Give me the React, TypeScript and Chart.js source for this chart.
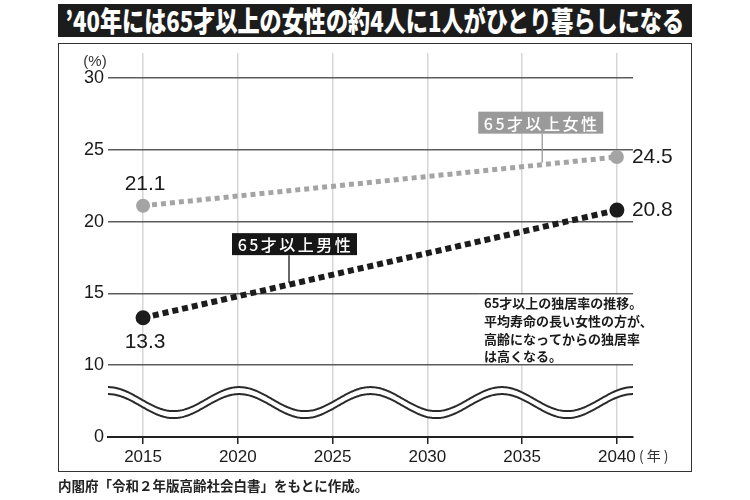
import React, { useEffect, useRef } from "react";
import { Chart, registerables } from "chart.js";

Chart.register(...registerables);

// ---------- data ----------
const TITLE = "’40年には65才以上の女性の約4人に1人がひとり暮らしになる";
const YEARS = [2015, 2040];
const FEMALE = [21.1, 24.5];
const MALE = [13.3, 20.8];
const X_TICKS = [2015, 2020, 2025, 2030, 2035, 2040];
const Y_TICKS = [0, 10, 15, 20, 25, 30];
const FEMALE_NAME = "65才以上女性";
const MALE_NAME = "65才以上男性";
const NOTE_LINES = [
  "65才以上の独居率の推移。",
  "平均寿命の長い女性の方が、",
  "高齢になってからの独居率",
  "は高くなる。",
];
const Y_UNIT = "(%)";
const X_UNIT = "(年)";
const SOURCE = "内閣府「令和２年版高齢社会白書」をもとに作成。";

// broken axis: 0–10 compressed to half
const BREAK_VALUE = 10;
const toAxis = (v: number) => (v >= BREAK_VALUE ? v : BREAK_VALUE / 2 + v / 2);

const SANS = '"Liberation Sans", Arial, sans-serif';
const JP = '"Noto Sans CJK JP", sans-serif';

const FEMALE_COLOR = "#a4a4a4";
const MALE_COLOR = "#1c1c1c";

function interp(values: number[], year: number) {
  const t = (year - YEARS[0]) / (YEARS[1] - YEARS[0]);
  return values[0] + (values[1] - values[0]) * t;
}

const decorPlugin = {
  id: "decor",
  afterDraw(chart: any) {
    const ctx: CanvasRenderingContext2D = chart.ctx;
    const xs = chart.scales.x;
    const ys = chart.scales.y;
    const area = chart.chartArea;
    ctx.save();

    // ----- wavy axis break -----
    const yTen = ys.getPixelForValue(toAxis(BREAK_VALUE));
    const yZero = ys.getPixelForValue(toAxis(0));
    const mid = (yTen + yZero) / 2 + 1.5;
    const amp = 12;
    const gap = 7;
    const period = (area.right - area.left) / 4;
    const curve = (x: number, off: number) =>
      mid + off - amp * Math.cos((2 * Math.PI * (x - area.left)) / period);
    ctx.beginPath();
    for (let x = area.left; x <= area.right; x += 1) ctx.lineTo(x, curve(x, -gap / 2));
    for (let x = area.right; x >= area.left; x -= 1) ctx.lineTo(x, curve(x, gap / 2));
    ctx.closePath();
    ctx.fillStyle = "#ffffff";
    ctx.fill();
    ctx.strokeStyle = "#2a2a2a";
    ctx.lineWidth = 2;
    for (const off of [-gap / 2, gap / 2]) {
      ctx.beginPath();
      for (let x = area.left; x <= area.right; x += 1) {
        const y = curve(x, off);
        if (x === area.left) ctx.moveTo(x, y);
        else ctx.lineTo(x, y);
      }
      ctx.stroke();
    }

    // ----- note box -----
    const y15 = ys.getPixelForValue(15);
    ctx.fillStyle = "#ffffff";
    ctx.fillRect(478, y15 + 1.5, 186, yTen - y15 - 3);
    ctx.fillStyle = "#1a1a1a";
    ctx.font = `bold 13px ${JP}`;
    ctx.textAlign = "left";
    ctx.textBaseline = "middle";
    NOTE_LINES.forEach((line, i) => {
      ctx.fillText(line, 484, y15 + 10 + i * 17.7);
    });

    // ----- value labels -----
    const fem = chart.getDatasetMeta(0).data;
    const mal = chart.getDatasetMeta(1).data;
    ctx.fillStyle = "#1a1a1a";
    ctx.font = `21px ${SANS}`;
    ctx.textBaseline = "middle";
    ctx.textAlign = "center";
    ctx.fillText(FEMALE[0].toFixed(1), fem[0].x + 2, fem[0].y - 22);
    ctx.fillText(MALE[0].toFixed(1), mal[0].x + 2, mal[0].y + 24);
    ctx.textAlign = "left";
    ctx.fillText(FEMALE[1].toFixed(1), fem[1].x + 15, fem[1].y);
    ctx.fillText(MALE[1].toFixed(1), mal[1].x + 15, mal[1].y);

    // ----- series tags -----
    const tag = (
      name: string,
      values: number[],
      year: number,
      dx: number,
      dy: number,
      bg: string
    ) => {
      const lx = xs.getPixelForValue(year);
      const ly = ys.getPixelForValue(interp(values, year));
      const w = 125;
      const h = 22;
      const cx = lx + dx;
      const cy = ly - dy;
      ctx.strokeStyle = bg;
      ctx.lineWidth = 1.3;
      ctx.beginPath();
      ctx.moveTo(lx, cy + h / 2);
      ctx.lineTo(lx, ly - 2);
      ctx.stroke();
      ctx.fillStyle = bg;
      ctx.fillRect(cx - w / 2, cy - h / 2, w, h);
      ctx.fillStyle = "#ffffff";
      ctx.font = `500 16px ${JP}`;
      (ctx as any).letterSpacing = "2.5px";
      ctx.textAlign = "center";
      ctx.textBaseline = "middle";
      ctx.fillText(name, cx + 1, cy + 1);
      (ctx as any).letterSpacing = "0px";
    };
    tag(FEMALE_NAME, FEMALE, 2036.06, -1.5, 42, "#9a9a9a");
    tag(MALE_NAME, MALE, 2022.7, 5.5, 40.5, "#161616");

    // ----- units -----
    ctx.fillStyle = "#333333";
    ctx.font = `15px ${SANS}`;
    ctx.textAlign = "center";
    ctx.textBaseline = "middle";
    ctx.fillText(Y_UNIT, 95, ys.getPixelForValue(30) - 16);
    ctx.textAlign = "left";
    ctx.font = `14px ${JP}`;
    (ctx as any).letterSpacing = "3px";
    ctx.fillText(X_UNIT, 639, area.bottom + 19);
    (ctx as any).letterSpacing = "0px";

    ctx.restore();
  },
};

export default function App() {
  const canvasRef = useRef<HTMLCanvasElement | null>(null);

  useEffect(() => {
    const canvas = canvasRef.current;
    if (!canvas) return;
    const yTickAxis = Y_TICKS.map(toAxis);
    const chart = new Chart(canvas, {
      type: "line",
      data: {
        datasets: [
          {
            label: FEMALE_NAME,
            data: YEARS.map((x, i) => ({ x, y: toAxis(FEMALE[i]) })),
            borderColor: FEMALE_COLOR,
            backgroundColor: FEMALE_COLOR,
            borderWidth: 5,
            borderDash: [5, 4],
            borderCapStyle: "butt",
            pointRadius: 7,
            pointBackgroundColor: FEMALE_COLOR,
            pointBorderWidth: 0,
            tension: 0,
          },
          {
            label: MALE_NAME,
            data: YEARS.map((x, i) => ({ x, y: toAxis(MALE[i]) })),
            borderColor: MALE_COLOR,
            backgroundColor: MALE_COLOR,
            borderWidth: 6,
            borderDash: [6, 4],
            borderCapStyle: "butt",
            pointRadius: 7.5,
            pointBackgroundColor: MALE_COLOR,
            pointBorderWidth: 0,
            tension: 0,
          },
        ],
      },
      options: {
        animation: false,
        responsive: false,
        devicePixelRatio: 1,
        layout: { padding: { left: 0, top: 53, right: 117, bottom: 0 } },
        plugins: {
          legend: { display: false },
          tooltip: { enabled: false },
          title: { display: false },
        },
        scales: {
          x: {
            type: "linear",
            min: 2013.15,
            max: 2040.85,
            afterBuildTicks: (scale: any) => {
              scale.ticks = X_TICKS.map((v) => ({ value: v }));
            },
            afterFit: (scale: any) => {
              scale.height = 63;
            },
            ticks: {
              callback: (v: any) => String(v),
              color: "#1a1a1a",
              font: { family: SANS, size: 17 },
              padding: 3,
              maxRotation: 0,
              autoSkip: false,
            },
            grid: {
              color: "#d6d6d6",
              lineWidth: 1.5,
              tickColor: "#222222",
              tickLength: 7,
              tickWidth: 1.5,
            },
            border: { display: true, color: "#222222", width: 2 },
          },
          y: {
            type: "linear",
            min: toAxis(0),
            max: 31.74,
            afterBuildTicks: (scale: any) => {
              scale.ticks = yTickAxis.map((v) => ({ value: v }));
            },
            afterFit: (scale: any) => {
              scale.width = 108;
            },
            ticks: {
              callback: (v: any) => {
                const i = yTickAxis.indexOf(Number(v));
                return i >= 0 ? String(Y_TICKS[i]) : "";
              },
              color: "#1a1a1a",
              font: { family: SANS, size: 18 },
              padding: 4,
              autoSkip: false,
            },
            grid: {
              color: (c: any) => (c.tick && c.tick.value === toAxis(0) ? "#222222" : "#5c5c5c"),
              lineWidth: (c: any) => (c.tick && c.tick.value === toAxis(0) ? 2 : 1.4),
              drawTicks: false,
            },
            border: { display: false },
          },
        },
      },
      plugins: [decorPlugin],
    } as any);
    return () => chart.destroy();
  }, []);

  return (
    <div
      style={{
        position: "fixed",
        left: 0,
        top: 0,
        width: 750,
        height: 500,
        background: "#ffffff",
        overflow: "hidden",
      }}
    >
      <div
        style={{
          position: "absolute",
          left: 58,
          top: 43,
          width: 634,
          height: 429,
          boxSizing: "border-box",
          border: "1.5px solid #333333",
        }}
      />
      <canvas
        ref={canvasRef}
        width={750}
        height={500}
        style={{ position: "absolute", left: 0, top: 0, width: 750, height: 500 }}
      />
      <div
        style={{
          position: "absolute",
          left: 58,
          top: 4,
          width: 634,
          height: 33,
          background: "#1c1c1c",
          color: "#ffffff",
          display: "flex",
          alignItems: "center",
          justifyContent: "center",
          overflow: "hidden",
        }}
      >
        <span
          style={{
            display: "inline-block",
            fontFamily: JP,
            fontWeight: 900,
            fontSize: 28,
            lineHeight: "33px",
            whiteSpace: "nowrap",
            transform: "scaleX(0.79)",
            transformOrigin: "center",
            flexShrink: 0,
          }}
        >
          {TITLE}
        </span>
      </div>
      <div
        style={{
          position: "absolute",
          left: 58,
          top: 476,
          fontFamily: JP,
          fontWeight: 700,
          fontSize: 13.5,
          lineHeight: "18px",
          color: "#222222",
          whiteSpace: "nowrap",
        }}
      >
        {SOURCE}
      </div>
    </div>
  );
}
